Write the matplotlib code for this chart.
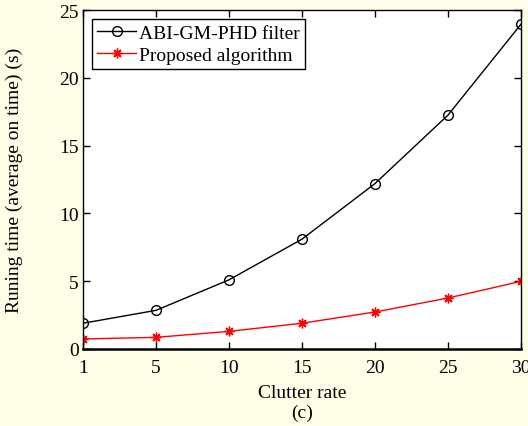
import matplotlib
matplotlib.use('Agg')
import matplotlib.pyplot as plt

# data
clutter_rate = ['1', '5', '10', '15', '20', '25', '30']
abi_gm_phd = [1.9, 2.85, 5.1, 8.1, 12.2, 17.25, 23.95]
proposed = [0.74, 0.86, 1.3, 1.9, 2.73, 3.76, 4.99]

plt.rcParams['font.family'] = ['Liberation Serif', 'DejaVu Serif']
plt.rcParams['font.size'] = 14

bg = '#fdfde8'
fig = plt.figure(figsize=(5.28, 4.27), dpi=100, facecolor=bg)
ax = fig.add_axes([83/528, 1 - 350/427, (521-83)/528, (350-11)/427])
ax.set_facecolor('white')

x = list(range(len(clutter_rate)))
ax.plot(x, abi_gm_phd, 'k-', marker='o', mfc='none', mec='k', ms=7, lw=1,
        label='ABI-GM-PHD filter')
ax.plot(x, proposed, 'r-', marker=(8, 2, 0), mec='r', ms=7, mew=1, lw=1,
        label='Proposed algorithm')

ax.set_xlim(0, len(clutter_rate) - 1)
ax.set_ylim(0, 25)
ax.set_xticks(x)
ax.set_xticklabels(clutter_rate)
ax.set_yticks([0, 5, 10, 15, 20, 25])
ax.tick_params(direction='in', top=True, right=True, length=5, width=1)
ax.tick_params(axis='x', pad=7)
ax.tick_params(axis='y', pad=3)
for s in ax.spines.values():
    s.set_linewidth(1)
ax.spines['bottom'].set_linewidth(1.8)

ax.set_xlabel('Clutter rate', labelpad=6)
ax.set_ylabel('Runing time (average on time) (s)', labelpad=26)
fig.text((83+521)/2/528, 1 - 413/427, '(c)', ha='center', va='center', fontsize=14)

leg = ax.legend(loc='upper left', bbox_to_anchor=(9/438, 1 - 9/339), fancybox=False,
                edgecolor='k', framealpha=1, borderpad=0.28, labelspacing=0.2,
                handlelength=2.0, handletextpad=0.15, borderaxespad=0)
leg.get_frame().set_linewidth(1)

fig.savefig('out.png', dpi=100, facecolor=bg)
